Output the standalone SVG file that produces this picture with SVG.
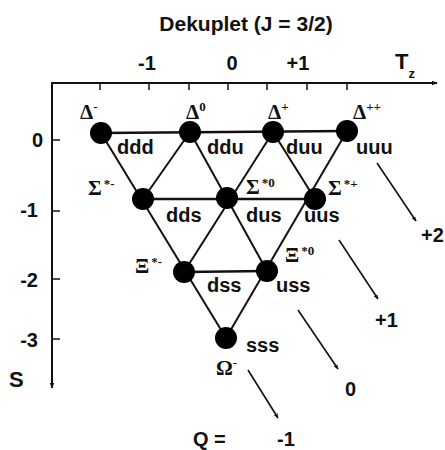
<svg xmlns="http://www.w3.org/2000/svg" width="445" height="450" viewBox="0 0 445 450">
<defs>
<style>
.ax{stroke:#111;stroke-width:2;fill:none}
.tk{stroke:#111;stroke-width:1.5}
.ln{stroke:#111;stroke-width:2;fill:none}
.hl{stroke:#111;stroke-width:2.5;fill:none}
.qa{stroke:#111;stroke-width:1.6;fill:none}
.nd{fill:#000}
.s{font-family:"Liberation Sans",Arial,sans-serif;font-weight:bold;fill:#111}
.g{font-family:"Liberation Serif","Times New Roman",serif;font-weight:bold;font-size:21px;fill:#111}
.q{font-family:"Liberation Sans",Arial,sans-serif;font-weight:bold;font-size:20px;fill:#111}
.sup{font-size:13px}
</style>
<marker id="ah" viewBox="0 0 10 10" refX="9" refY="5" markerWidth="6" markerHeight="6" orient="auto" markerUnits="userSpaceOnUse"><path d="M0,1 L10,5 L0,9 Z" fill="#111"/></marker>
<marker id="qh" viewBox="0 0 10 10" refX="9" refY="5" markerWidth="5" markerHeight="5" orient="auto" markerUnits="userSpaceOnUse"><path d="M0,1 L10,5 L0,9 Z" fill="#111"/></marker>
</defs>
<rect width="445" height="450" fill="#fff"/>
<text class="s" x="246" y="31" font-size="21" text-anchor="middle">Dekuplet (J = 3/2)</text>
<g id="axes">
<line class="ax" x1="52" y1="83" x2="437" y2="83" marker-end="url(#ah)"/>
<line class="ax" x1="52" y1="82" x2="52" y2="388" marker-end="url(#ah)"/>
<g class="tk">
<line x1="100" y1="83" x2="100" y2="90"/><line x1="149" y1="83" x2="149" y2="90"/><line x1="189" y1="83" x2="189" y2="90"/><line x1="228" y1="83" x2="228" y2="90"/><line x1="267" y1="83" x2="267" y2="90"/><line x1="307" y1="83" x2="307" y2="90"/><line x1="347" y1="83" x2="347" y2="90"/>
<line x1="52" y1="140" x2="60" y2="140"/><line x1="52" y1="211" x2="60" y2="211"/><line x1="52" y1="279" x2="60" y2="279"/><line x1="52" y1="339" x2="60" y2="339"/>
</g>
<text class="s" font-size="20" x="147" y="70" text-anchor="middle">-1</text>
<text class="s" font-size="20" x="232" y="70" text-anchor="middle">0</text>
<text class="s" font-size="20" x="298" y="70" text-anchor="middle">+1</text>
<text class="s" font-size="22" x="395" y="69">T<tspan font-size="13" dy="9">z</tspan></text>
<text class="s" font-size="20" x="43" y="147" text-anchor="end">0</text>
<text class="s" font-size="20" x="38" y="217" text-anchor="end">-1</text>
<text class="s" font-size="20" x="38" y="287" text-anchor="end">-2</text>
<text class="s" font-size="20" x="38" y="347" text-anchor="end">-3</text>
<text class="s" font-size="22" x="9" y="387">S</text>
</g>
<g id="connectors">
<line class="hl" x1="101" y1="133" x2="347" y2="131"/>
<line class="hl" x1="143" y1="199" x2="315" y2="199"/>
<line class="hl" x1="184" y1="272" x2="267" y2="271"/>
<line class="ln" x1="101" y1="133" x2="226" y2="338"/>
<line class="ln" x1="347" y1="131" x2="226" y2="338"/>
<line class="ln" x1="190" y1="132" x2="143" y2="199"/>
<line class="ln" x1="190" y1="132" x2="267" y2="271"/>
<line class="ln" x1="273" y1="132" x2="184" y2="272"/>
<line class="ln" x1="273" y1="132" x2="315" y2="199"/>
<line class="qa" x1="377" y1="163" x2="416" y2="221" marker-end="url(#qh)"/>
<line class="qa" x1="339" y1="240" x2="378" y2="299" marker-end="url(#qh)"/>
<line class="qa" x1="298" y1="310" x2="338" y2="369" marker-end="url(#qh)"/>
<line class="qa" x1="248" y1="370" x2="278" y2="418" marker-end="url(#qh)"/>
</g>
<g id="n-delta-minus"><circle class="nd" cx="101" cy="133" r="11"/><text class="g" x="80" y="119">Δ<tspan class="sup" dy="-8">-</tspan></text><text class="q" x="117" y="154">ddd</text></g>
<g id="n-delta-0"><circle class="nd" cx="190" cy="132" r="11"/><text class="g" x="186" y="119">Δ<tspan class="sup" dy="-8">0</tspan></text><text class="q" x="207" y="154">ddu</text></g>
<g id="n-delta-plus"><circle class="nd" cx="273" cy="132" r="11"/><text class="g" x="268" y="119">Δ<tspan class="sup" dy="-8">+</tspan></text><text class="q" x="286" y="154">duu</text></g>
<g id="n-delta-plusplus"><circle class="nd" cx="347" cy="131" r="11"/><text class="g" x="353" y="119">Δ<tspan class="sup" dy="-8">++</tspan></text><text class="q" x="356" y="154">uuu</text></g>
<g id="n-sigma-minus"><circle class="nd" cx="143" cy="199" r="11"/><text class="g" x="88" y="195">Σ<tspan class="sup" dx="2" dy="-7">*-</tspan></text><text class="q" x="166" y="222">dds</text></g>
<g id="n-sigma-0"><circle class="nd" cx="227" cy="198" r="11"/><text class="g" x="246" y="194">Σ<tspan class="sup" dx="2" dy="-7">*0</tspan></text><text class="q" x="246" y="222">dus</text></g>
<g id="n-sigma-plus"><circle class="nd" cx="315" cy="199" r="11"/><text class="g" x="328" y="195">Σ<tspan class="sup" dx="2" dy="-7">*+</tspan></text><text class="q" x="304" y="222">uus</text></g>
<g id="n-xi-minus"><circle class="nd" cx="184" cy="272" r="11"/><text class="g" x="135" y="273">Ξ<tspan class="sup" dx="2" dy="-7">*-</tspan></text><text class="q" x="207" y="292">dss</text></g>
<g id="n-xi-0"><circle class="nd" cx="267" cy="271" r="11"/><text class="g" x="285" y="262">Ξ<tspan class="sup" dx="2" dy="-7">*0</tspan></text><text class="q" x="276" y="292">uss</text></g>
<g id="n-omega-minus"><circle class="nd" cx="226" cy="338" r="11"/><text class="g" x="216" y="375">Ω<tspan class="sup" dy="-8">-</tspan></text><text class="q" x="246" y="352">sss</text></g>
<g id="charges">
<text class="s" font-size="20" x="421" y="242">+2</text>
<text class="s" font-size="20" x="375" y="327">+1</text>
<text class="s" font-size="20" x="345" y="396">0</text>
<text class="s" font-size="20" x="193" y="446">Q =</text>
<text class="s" font-size="20" x="277" y="446">-1</text>
</g>
</svg>
